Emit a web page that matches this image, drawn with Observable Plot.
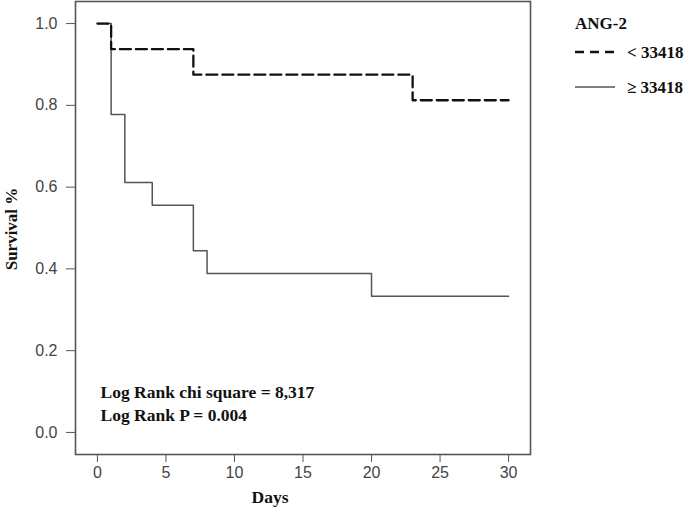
<!DOCTYPE html>
<html>
<head>
<meta charset="utf-8">
<script src="https://cdn.jsdelivr.net/npm/d3@7"></script>
<script src="https://cdn.jsdelivr.net/npm/@observablehq/plot@0.6"></script>
<style>
  html, body { margin: 0; padding: 0; background: #fff; }
  #chart svg { display: block; }
</style>
</head>
<body>
<div id="chart"></div>
<script>
// Group "< 33418" (dashed)
const lowDays = [0, 1, 7, 23, 30];
const lowSurv = [1.0, 0.9375, 0.875, 0.8125, 0.8125];
// Group "≥ 33418" (solid)
const highDays = [0, 1, 2, 4, 7, 8, 20, 30];
const highSurv = [1.0, 0.7778, 0.6111, 0.5556, 0.4444, 0.3889, 0.3333, 0.3333];

const xTicks = [0, 5, 10, 15, 20, 25, 30];
const yTicks = [0.0, 0.2, 0.4, 0.6, 0.8, 1.0];
const legendTitle = "ANG-2";
const legendLabels = ["< 33418", "≥ 33418"];
const annotations = ["Log Rank chi square = 8,317", "Log Rank P = 0.004"];
const xLabel = "Days";
const yLabel = "Survival %";

const low = lowDays.map((d, i) => ({day: d, s: lowSurv[i]}));
const high = highDays.map((d, i) => ({day: d, s: highSurv[i]}));

const W = 685, H = 507;
const serif = "'Liberation Serif', 'Times New Roman', serif";
const sans = "'Liberation Sans', Arial, sans-serif";

const chart = Plot.plot({
  width: W,
  height: H,
  marginLeft: 75,
  marginRight: 155,
  marginTop: 1,
  marginBottom: 53,
  style: {fontFamily: sans, fontSize: "16px", color: "#444", background: "#fff"},
  x: {domain: [-1.6, 31.6], ticks: xTicks},
  y: {domain: [-0.054, 1.054], ticks: yTicks},
  marks: [
    Plot.axisX({ticks: xTicks, tickSize: 8, tickPadding: 4, fontSize: 16, label: null, stroke: "#555"}),
    Plot.axisY({ticks: yTicks, tickSize: 9, tickPadding: 9, fontSize: 16, label: null, tickFormat: d3.format(".1f"), stroke: "#555"}),
    Plot.frame({stroke: "#555", strokeWidth: 1.6}),
    Plot.line(high, {x: "day", y: "s", curve: "step-after", stroke: "#555", strokeWidth: 1.5}),
    Plot.line(low, {x: "day", y: "s", curve: "step-after", stroke: "#111", strokeWidth: 2.3, strokeDasharray: "11,5"}),
    Plot.text([annotations[0]], {frameAnchor: "bottom-left", dx: 25, dy: -57, text: d => d, textAnchor: "start", fontFamily: serif, fontWeight: "bold", fontSize: 17.5, fill: "#111"}),
    Plot.text([annotations[1]], {frameAnchor: "bottom-left", dx: 25, dy: -34, text: d => d, textAnchor: "start", fontFamily: serif, fontWeight: "bold", fontSize: 17.5, fill: "#111"})
  ]
});
document.getElementById("chart").appendChild(chart);

const svg = d3.select(chart);
// axis titles
svg.append("text")
  .attr("x", 270).attr("y", 497).attr("dy", "0.35em")
  .attr("text-anchor", "middle")
  .attr("font-family", serif).attr("font-weight", "bold").attr("font-size", 17.5).attr("fill", "#111")
  .text(xLabel);
svg.append("text")
  .attr("transform", "translate(12,229) rotate(-90)")
  .attr("dy", "0.3em")
  .attr("text-anchor", "middle")
  .attr("font-family", serif).attr("font-weight", "bold").attr("font-size", 17).attr("fill", "#111")
  .text(yLabel);

// legend
const lg = svg.append("g").attr("text-anchor", "start");
lg.append("text").attr("x", 575).attr("y", 23).attr("dy", "0.35em")
  .attr("text-anchor", "start")
  .attr("font-family", serif).attr("font-weight", "bold").attr("font-size", 17).attr("fill", "#111")
  .text(legendTitle);
const rows = [{y: 52, dash: "9,6", stroke: "#111", w: 2.6}, {y: 87, dash: null, stroke: "#555", w: 1.5}];
rows.forEach((r, i) => {
  lg.append("line").attr("x1", 575).attr("x2", 615).attr("y1", r.y).attr("y2", r.y)
    .attr("stroke", r.stroke).attr("stroke-width", r.w).attr("stroke-dasharray", r.dash);
  lg.append("text").attr("x", 627).attr("y", r.y).attr("dy", "0.35em")
    .attr("text-anchor", "start")
    .attr("font-family", serif).attr("font-weight", "bold").attr("font-size", 17).attr("fill", "#111")
    .text(legendLabels[i]);
});
</script>
</body>
</html>
